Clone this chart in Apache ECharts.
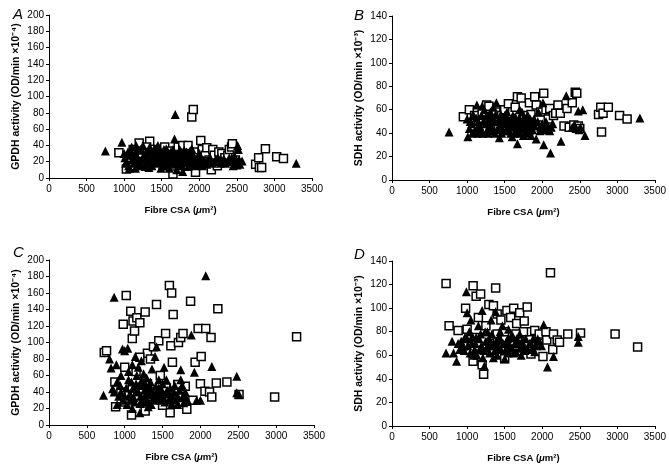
<!DOCTYPE html>
<html>
<head>
<meta charset="utf-8">
<script src="https://cdn.jsdelivr.net/npm/echarts/dist/echarts.min.js"></script>
<style>
    html, body { margin: 0; padding: 0; background: #fff; }
    #main { width: 669px; height: 466px; }
</style>
</head>
<body>
<div id="main"></div>
<script type="text/javascript">
// panel A - GPDH vs CSA (top left)
var aSquares = [[930,31],[1030,11],[1080,25],[1120,35],[1150,20],[1200,43],[1240,30],[1280,18],[1340,45],[1380,28],[1420,22],[1460,35],[1500,30],[1540,38],[1580,25],[1620,33],[1650,5],[1680,28],[1720,38],[1740,20],[1780,40],[1820,30],[1850,40],[1880,22],[1900,75],[1920,84],[1930,32],[1950,7],[1980,25],[2000,18],[2020,46],[2040,35],[2080,28],[2100,37],[2130,22],[2160,10],[2180,35],[2200,28],[2240,15],[2260,32],[2300,30],[2340,25],[2380,28],[2400,35],[2430,38],[2440,42],[2480,22],[2500,18],[2750,17],[2790,25],[2800,13],[2830,13],[2880,36],[3030,26],[3120,24],[1100,15],[1300,38],[1560,15],[1850,15],[2050,20]];
var aTriangles = [[750,33],[970,44],[1000,30],[1010,25],[1030,20],[1050,32],[1060,15],[1080,28],[1100,38],[1110,22],[1130,18],[1150,30],[1160,40],[1180,25],[1200,15],[1220,35],[1240,22],[1260,28],[1280,14],[1300,32],[1320,20],[1340,38],[1350,25],[1370,15],[1390,30],[1410,22],[1430,18],[1450,27],[1470,35],[1490,12],[1500,24],[1520,30],[1540,20],[1560,36],[1580,15],[1600,26],[1620,32],[1640,18],[1660,24],[1670,48],[1680,78],[1690,30],[1700,10],[1720,22],[1740,35],[1760,16],[1780,8],[1790,28],[1810,20],[1830,32],[1850,14],[1870,25],[1890,18],[1910,30],[1930,22],[1960,15],[1990,25],[2020,18],[2060,22],[2100,17],[2150,24],[2200,20],[2250,25],[2300,22],[2350,18],[2400,25],[2450,15],[2480,20],[2510,40],[2520,35],[2540,17],[2570,21],[3290,18],[1070,12],[1250,40],[1450,40],[1150,12],[1600,12],[1900,36],[2000,30],
    [1020,18],[1090,33],[1120,27],[1170,21],[1190,34],[1230,17],[1270,25],[1310,27],[1330,13],[1360,33],[1380,20],[1400,36],[1420,27],[1460,20],[1480,30],[1510,16],[1530,35],[1550,26],[1570,21],[1590,31],[1610,19],[1630,28],[1650,35],[1680,17],[1710,27],[1730,15],[1750,29],[1770,22],[1800,34],[1820,25],[1840,19],[1860,30],[1880,22],[1920,27],[1940,17],[1970,21],[2010,23],[2040,15],[2080,19],[2120,22],[2170,18],[2220,23],[2280,18],[2330,23],[2380,20],[2430,22],[2470,27],[2500,16],[2530,22]];

// panel B - SDH vs CSA (top right)
var bSquares = [[950,54],[1030,60],[1100,55],[1150,50],[1200,58],[1260,64],[1290,63],[1330,52],[1380,58],[1420,46],[1460,55],[1500,60],[1550,65],[1600,50],[1640,62],[1670,71],[1720,70],[1760,55],[1800,48],[1830,66],[1900,71],[1920,64],[1950,47],[1980,58],[2020,74],[2050,60],[2080,52],[2100,61],[2150,55],[2180,57],[2210,64],[2240,57],[2290,46],[2330,61],[2360,45],[2400,66],[2420,47],[2440,75],[2460,74],[2480,46],[2500,44],[2750,56],[2780,62],[2790,41],[2810,57],[2880,62],[3030,55],[3130,52],[1240,44],[1700,42],[1850,56],[2000,43]];
var bTriangles = [[760,41],[1000,52],[1010,37],[1030,44],[1060,48],[1080,56],[1100,42],[1130,64],[1150,50],[1170,46],[1190,55],[1210,40],[1230,60],[1250,48],[1270,43],[1290,52],[1310,58],[1330,45],[1350,62],[1370,40],[1390,66],[1410,50],[1430,36],[1450,56],[1470,44],[1490,52],[1510,48],[1530,58],[1550,42],[1570,50],[1590,46],[1610,55],[1630,40],[1650,48],[1670,31],[1690,52],[1710,44],[1730,58],[1750,38],[1770,50],[1790,45],[1810,55],[1830,42],[1860,48],[1890,52],[1920,35],[1950,58],[1980,45],[2010,66],[2020,30],[2050,50],[2080,44],[2100,42],[2110,23],[2140,48],[2250,33],[2320,72],[2400,45],[2450,44],[2480,59],[2510,45],[2540,60],[2570,38],[3300,53],[1150,40],[1400,43],[1600,37],[1850,38],[1200,63],[1700,60],
    [1040,50],[1070,40],[1120,53],[1140,45],[1180,41],[1220,50],[1260,55],[1280,40],[1300,47],[1320,53],[1340,42],[1360,50],[1380,56],[1420,45],[1440,51],[1460,40],[1480,48],[1500,55],[1520,42],[1540,52],[1560,46],[1580,40],[1600,51],[1620,45],[1640,54],[1660,42],[1680,47],[1700,40],[1720,50],[1740,44],[1760,54],[1780,40],[1800,49],[1820,46],[1840,52],[1870,43],[1900,46],[1940,50],[1970,42],[2000,48],[2030,44],[2060,46],[2120,45],[2430,47],[2490,43]];

// panel C - GPDH vs CSA (bottom left)
var cSquares = [[730,88],[760,90],[870,52],[880,22],[980,122],[1020,157],[1080,138],[1100,105],[1110,126],[1130,114],[1160,130],[1200,124],[1270,137],[1300,87],[1340,80],[1380,95],[1420,146],[1450,102],[1470,60],[1540,111],[1590,169],[1610,96],[1620,160],[1640,134],[1630,76],[1710,100],[1740,106],[1770,111],[1870,150],[1930,76],[1970,117],[2010,83],[2070,117],[2140,106],[2230,141],[2000,50],[2060,41],[2120,40],[2150,34],[2210,51],[2350,52],[2510,37],[2980,34],[3270,107],[1090,12],[1270,17],[1600,15],[1820,19],[1500,24],[1000,70],[1150,65],[1200,82],[1400,40],[1700,49],[1800,47],[1750,35],[1550,45],[1350,35],[1100,45],[1000,28],[1250,30],[1650,28],[1900,30],[1300,50],[950,40]];
var cTriangles = [[720,36],[800,80],[820,69],[840,44],[860,155],[890,73],[900,52],[950,40],[970,92],[1000,90],[1040,93],[1000,35],[1050,55],[1080,30],[1100,73],[1110,45],[1140,83],[1160,60],[1180,40],[1200,26],[1200,15],[1220,78],[1250,50],[1270,35],[1290,57],[1310,22],[1330,45],[1360,68],[1380,30],[1400,83],[1420,95],[1430,40],[1450,55],[1480,30],[1500,50],[1520,70],[1550,38],[1580,30],[1600,45],[1620,25],[1650,40],[1700,35],[1740,55],[1740,67],[1760,48],[1780,27],[1800,40],[1830,30],[1880,109],[1920,64],[1950,30],[2000,30],[2070,181],[2150,71],[2480,59],[2480,39],[2510,37],[900,25],[1050,65],[1150,50],[1350,25],[1450,45],[1550,55],[950,60],[1250,62],[1700,25],[1100,20],[1300,40],[1600,32],[1180,70],
    [860,40],[920,35],[940,48],[980,30],[1020,45],[1030,25],[1070,38],[1090,52],[1120,33],[1130,28],[1160,42],[1190,48],[1210,35],[1230,55],[1240,28],[1260,42],[1280,48],[1300,30],[1320,37],[1340,52],[1370,40],[1390,35],[1410,47],[1440,32],[1460,38],[1490,42],[1510,34],[1530,28],[1560,42],[1590,38],[1630,35],[1660,48],[1680,30],[1720,42],[1760,33],[1790,36]];

// panel D - SDH vs CSA (bottom right)
var dSquares = [[720,121],[760,85],[880,81],[980,100],[1000,82],[1080,119],[1120,110],[1180,112],[1220,44],[1290,103],[1350,102],[1380,117],[1400,95],[1450,90],[1500,80],[1530,98],[1580,92],[1620,100],[1660,87],[1700,96],[1760,89],[1800,101],[1850,80],[1900,81],[1960,78],[2010,59],[2050,80],[2060,73],[2110,130],[2140,65],[2150,78],[2200,73],[2230,71],[2340,78],[2510,79],[2970,78],[3270,67],[1080,55],[1200,52],[1500,57],[1850,61],[1100,75],[1250,85],[1300,70],[1400,78],[1600,72],[1700,75],[1750,80],[950,68],[1150,92],[1350,65],[1550,65],[1650,78],[1950,70]];
var dTriangles = [[720,62],[800,72],[820,62],[860,55],[880,70],[900,65],[940,68],[970,75],[990,114],[1000,96],[1030,80],[1060,70],[1090,60],[1120,75],[1150,85],[1170,65],[1200,98],[1210,58],[1230,51],[1250,72],[1270,80],[1300,62],[1320,90],[1350,70],[1380,97],[1400,60],[1420,75],[1450,65],[1470,85],[1500,57],[1520,70],[1550,62],[1580,75],[1600,66],[1640,70],[1680,72],[1720,60],[1750,68],[1780,74],[1810,65],[1850,70],[1880,74],[1920,68],[1960,72],[2020,86],[2070,50],[2150,59],[2480,76],[2480,71],[1050,90],[1100,65],[1180,78],[1280,68],[1450,73],[1650,63],[1700,78],[1900,63],[1000,74],[1350,58],[1550,82],
    [920,72],[960,64],[1010,68],[1040,62],[1070,76],[1110,70],[1130,60],[1160,74],[1190,68],[1220,64],[1240,80],[1260,66],[1290,74],[1310,68],[1330,78],[1370,64],[1390,72],[1410,67],[1440,80],[1480,70],[1510,64],[1540,74],[1570,68],[1610,76],[1630,62],[1660,74],[1700,66],[1730,72],[1770,64],[1830,70],[1870,66],[1940,74],[1990,68]];

var panelLabels = ['A', 'B', 'C', 'D'];
var yNames = ['GPDH activity (OD/min \u00d710\u207b\u2074)', 'SDH activity (OD/min \u00d710\u207b\u00b3)', 'GPDH activity (OD/min \u00d710\u207b\u2074)', 'SDH activity (OD/min \u00d710\u207b\u00b3)'];
var yMax = [200, 140, 200, 140];
var yStep = 20;
var xMax = 3500;
var xStep = 500;

var myChart = echarts.init(document.getElementById('main'));

var font = 'Liberation Sans, Arial, sans-serif';
var grids = [
    { left: 49, top: 15, width: 263, height: 163 },
    { left: 392, top: 16, width: 263, height: 164 },
    { left: 49, top: 260, width: 265, height: 165 },
    { left: 392, top: 261, width: 264, height: 165 }
];
var labelPos = [[8, 2], [349, 3], [8, 240], [349, 242]];
var squares = [aSquares, bSquares, cSquares, dSquares];
var triangles = [aTriangles, bTriangles, cTriangles, dTriangles];

var xAxes = [], yAxes = [], series = [], titles = [];
for (var i = 0; i < 4; i++) {
    xAxes.push({
        gridIndex: i,
        type: 'value',
        min: 0,
        max: xMax,
        interval: xStep,
        name: '{n|Fibre CSA (}{i|\u03bc}{n|m\u00b2)}',
        nameLocation: 'middle',
        nameGap: 27,
        nameTextStyle: {
            rich: {
                n: { fontFamily: font, fontSize: 9.5, fontWeight: 'bold', color: '#000' },
                i: { fontFamily: font, fontSize: 9.5, fontWeight: 'bold', fontStyle: 'italic', color: '#000' }
            }
        },
        axisLine: { lineStyle: { color: '#000', width: 1 } },
        axisTick: { show: true, length: 3, lineStyle: { color: '#000' } },
        axisLabel: { color: '#000', fontFamily: font, fontSize: 10, margin: 6, formatter: function (v) { return String(v); } },
        splitLine: { show: false }
    });
    yAxes.push({
        gridIndex: i,
        type: 'value',
        min: 0,
        max: yMax[i],
        interval: yStep,
        name: yNames[i],
        nameLocation: 'middle',
        nameGap: 27,
        nameTextStyle: { color: '#000', fontFamily: font, fontSize: 10.5, fontWeight: 'bold' },
        axisLine: { show: true, lineStyle: { color: '#000', width: 1 } },
        axisTick: { show: true, length: 3, lineStyle: { color: '#000' } },
        axisLabel: { color: '#000', fontFamily: font, fontSize: 10, margin: 5 },
        splitLine: { show: false }
    });
    series.push({
        type: 'scatter',
        xAxisIndex: i,
        yAxisIndex: i,
        symbol: 'rect',
        symbolSize: 8,
        itemStyle: { color: '#fff', borderColor: '#000', borderWidth: 1.5, opacity: 1 },
        data: squares[i]
    });
    series.push({
        type: 'scatter',
        xAxisIndex: i,
        yAxisIndex: i,
        symbol: 'triangle',
        symbolSize: 9,
        itemStyle: { color: '#000', opacity: 1 },
        data: triangles[i]
    });
    titles.push({
        text: panelLabels[i],
        left: labelPos[i][0],
        top: labelPos[i][1],
        textStyle: { fontFamily: font, fontSize: 15, fontWeight: 'normal', fontStyle: 'italic', color: '#000' }
    });
}

var option = {
    backgroundColor: '#fff',
    animation: false,
    title: titles,
    grid: grids,
    xAxis: xAxes,
    yAxis: yAxes,
    series: series
};
myChart.setOption(option);
</script>
</body>
</html>
